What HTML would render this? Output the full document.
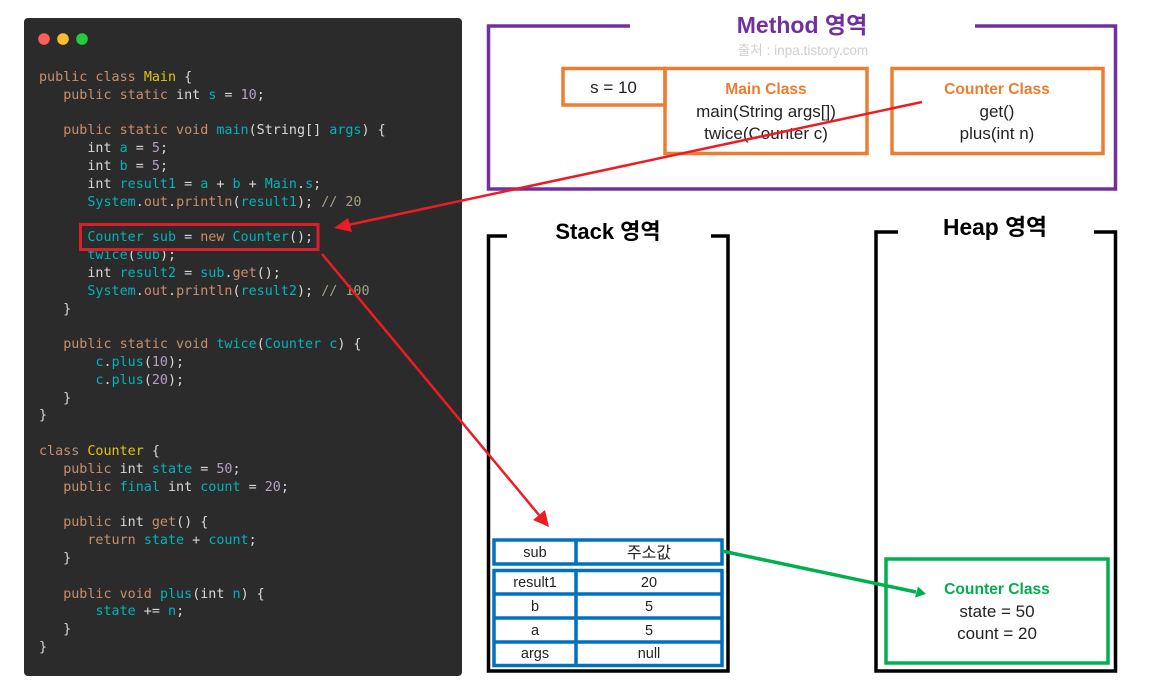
<!DOCTYPE html>
<html><head><meta charset="utf-8"><style>
html,body{margin:0;padding:0;background:#fff}
#r{position:relative;width:1155px;height:693px;overflow:hidden;background:#fff}
#card{position:absolute;left:24px;top:18px;width:438px;height:658px;background:#2b2b2b;border-radius:4px}
pre{position:absolute;left:39px;top:69px;margin:0;font:13.4px/17.81px "DejaVu Sans Mono","Liberation Mono",monospace;color:#d8d8d8;filter:blur(.35px)}
.k{color:#c98f6c}.y{color:#e6c400}.t{color:#00b4bd}.n{color:#b5a0c4}.c{color:#a59f85}
svg{position:absolute;left:0;top:0}
text{font-family:"Liberation Sans","Noto Sans CJK KR",sans-serif;text-anchor:middle}
.b{font-size:15.6px;font-weight:700}
</style></head><body><div id="r">
<div id="card"></div>
<pre><span class="k">public class</span> <span class="y">Main</span> {
   <span class="k">public static</span> int <span class="t">s</span> = <span class="n">10</span>;

   <span class="k">public static void</span> <span class="t">main</span>(String[] <span class="t">args</span>) {
      int <span class="t">a</span> = <span class="n">5</span>;
      int <span class="t">b</span> = <span class="n">5</span>;
      int <span class="t">result1</span> = <span class="t">a</span> + <span class="t">b</span> + <span class="t">Main</span>.<span class="t">s</span>;
      <span class="t">System</span>.<span class="k">out</span>.<span class="k">println</span>(<span class="t">result1</span>); <span class="c">// 20</span>

      <span class="t">Counter sub</span> = <span class="k">new</span> <span class="t">Counter</span>();
      <span class="t">twice</span>(<span class="t">sub</span>);
      int <span class="t">result2</span> = <span class="t">sub</span>.<span class="k">get</span>();
      <span class="t">System</span>.<span class="k">out</span>.<span class="k">println</span>(<span class="t">result2</span>); <span class="c">// 100</span>
   }

   <span class="k">public static void</span> <span class="t">twice</span>(<span class="t">Counter c</span>) {
       <span class="t">c</span>.<span class="t">plus</span>(<span class="n">10</span>);
       <span class="t">c</span>.<span class="t">plus</span>(<span class="n">20</span>);
   }
}

<span class="k">class</span> <span class="y">Counter</span> {
   <span class="k">public</span> int <span class="t">state</span> = <span class="n">50</span>;
   <span class="k">public</span> <span class="t">final</span> int <span class="t">count</span> = <span class="n">20</span>;

   <span class="k">public</span> int <span class="k">get</span>() {
      <span class="k">return</span> <span class="t">state</span> + <span class="t">count</span>;
   }

   <span class="k">public void</span> <span class="t">plus</span>(int <span class="t">n</span>) {
       <span class="t">state</span> += <span class="t">n</span>;
   }
}</pre>
<svg width="1155" height="693" viewBox="0 0 1155 693">
<circle cx="44" cy="39" r="5.8" fill="#ff5f56"/><circle cx="63" cy="39" r="5.8" fill="#ffbd2e"/><circle cx="82" cy="39" r="5.8" fill="#27c93f"/>
<rect x="80.5" y="224.5" width="237.5" height="25" fill="none" stroke="#d8202a" stroke-width="3"/>

<path d="M630 26H488.5V189H1115.5V26H975" fill="none" stroke="#7030a0" stroke-width="3.5"/>
<text x="802" y="33" font-size="23" font-weight="700" fill="#7030a0">Method 영역</text>
<text x="803" y="55" font-size="13.6" fill="#cfcfcf">출처 : inpa.tistory.com</text>

<g fill="none" stroke="#ed7d31" stroke-width="3.5">
<rect x="563" y="68.5" width="102" height="36.5"/>
<rect x="665" y="68.5" width="202" height="85"/>
<rect x="892" y="68.5" width="211" height="85"/>
</g>
<g font-size="17" fill="#222">
<text x="613.5" y="93">s = 10</text>
<text x="766" y="94" class="b" fill="#ed7d31">Main Class</text>
<text x="766" y="117">main(String args[])</text>
<text x="766" y="139">twice(Counter c)</text>
<text x="997" y="94" class="b" fill="#ed7d31">Counter Class</text>
<text x="997" y="117">get()</text>
<text x="997" y="139">plus(int n)</text>
</g>

<path d="M507 236H488.500V671H728V236H711" fill="none" stroke="#000" stroke-width="3.5"/>
<path d="M898 232H876V671H1115.500V232H1094" fill="none" stroke="#000" stroke-width="3.5"/>
<text x="608" y="239" font-size="22" font-weight="700" fill="#000">Stack 영역</text>
<text x="995" y="235" font-size="22.800" font-weight="700" fill="#000">Heap 영역</text>

<g fill="none" stroke="#0070c0" stroke-width="3.500">
<rect x="494" y="540" width="228" height="24"/>
<path d="M576 540V564"/>
<rect x="494" y="570.500" width="228" height="95"/>
<path d="M494 594H722M494 618H722M494 642H722M576 570V666"/>
</g>
<g font-size="14.500" fill="#222">
<text x="535" y="557">sub</text>
<text x="649" y="558" font-size="16">주소값</text>
<text x="535" y="587">result1</text><text x="649" y="587">20</text>
<text x="535" y="611">b</text><text x="649" y="611">5</text>
<text x="535" y="635">a</text><text x="649" y="635">5</text>
<text x="535" y="658">args</text><text x="649" y="658">null</text>
</g>

<rect x="886" y="559" width="222" height="104" fill="none" stroke="#00b050" stroke-width="3.500"/>
<g font-size="17" fill="#222">
<text x="997" y="594" class="b" fill="#00b050">Counter Class</text>
<text x="997" y="617">state = 50</text>
<text x="997" y="639">count = 20</text>
</g>

<g stroke="#ed1c24" stroke-width="2.500" fill="none">
<path d="M922 102L348 225"/>
<path d="M322 254L539 515"/>
</g>
<path d="M334 228L348 218L352 232Z" fill="#ed1c24"/>
<path d="M549 527L533 520L545 510Z" fill="#ed1c24"/>
<path d="M722 551L916 592" stroke="#00b050" stroke-width="3.500" fill="none"/>
<path d="M926 594L915 597.500L918 586.500Z" fill="#00b050"/>
</svg>
</div></body></html>
